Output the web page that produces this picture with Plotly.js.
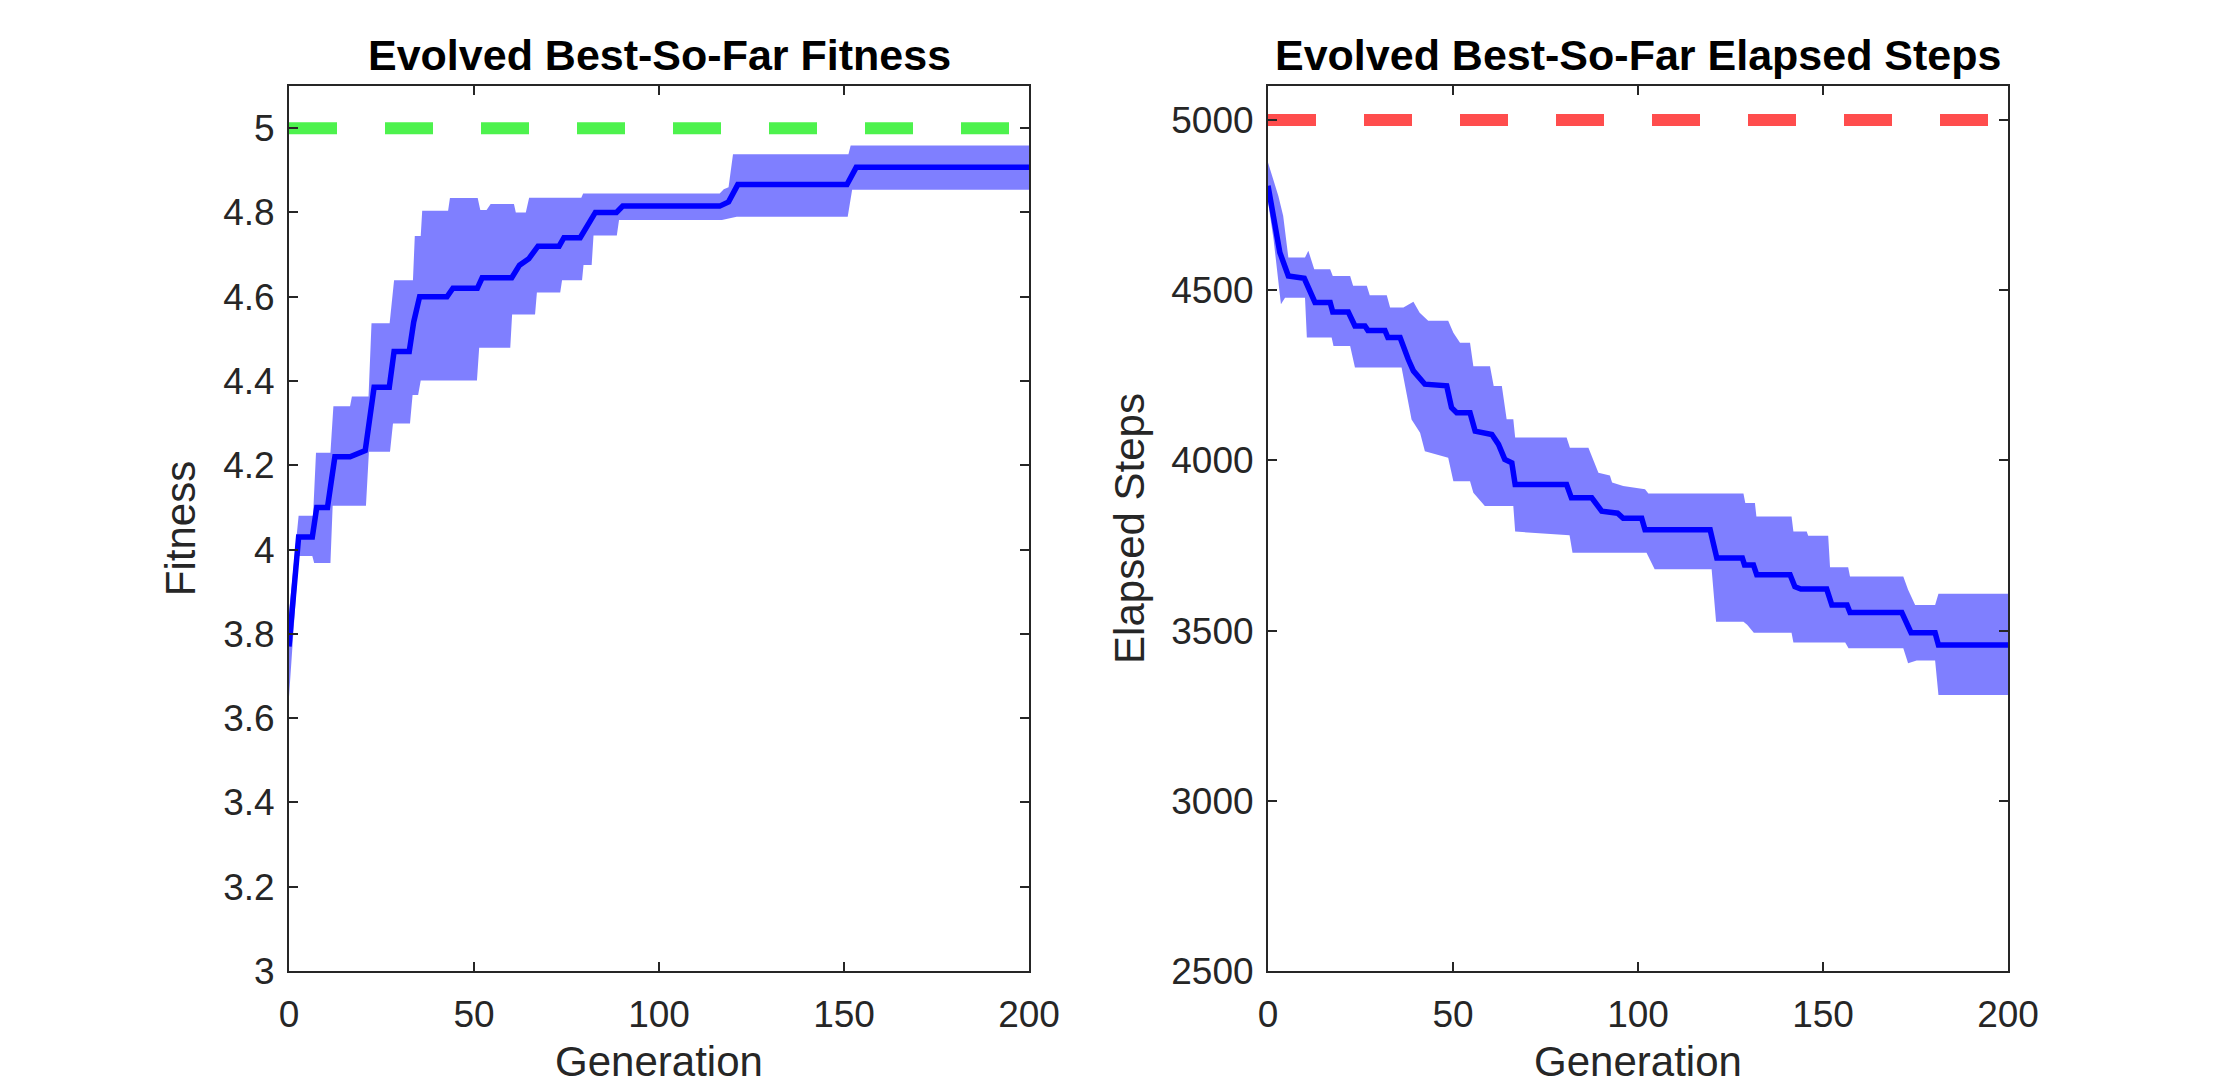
<!DOCTYPE html>
<html>
<head>
<meta charset="utf-8">
<script src="https://cdn.plot.ly/plotly-3.0.1.min.js"></script>
<style>
  html, body { margin: 0; padding: 0; background: #fff; }
  #container { width: 2221px; height: 1092px; }
</style>
</head>
<body>
<div id="container"></div>
<script>
// ---- fitness panel ----
var fitGen  = [0, 2.6, 6.3, 7.5, 10.4, 12.4, 16.5, 20.6, 23, 27.1, 28.4, 32.5, 33.7, 35.3, 42.7, 44.3, 50.9, 52.2, 60.2, 62.3, 64.8, 67.3, 73, 74.3, 78.7, 80, 82.8, 88.5, 90.2, 116.4, 118.8, 121.3, 150.8, 153.3, 200];
var fitMean = [3.77, 4.03, 4.03, 4.10, 4.10, 4.22, 4.22, 4.235, 4.385, 4.385, 4.47, 4.47, 4.54, 4.60, 4.60, 4.62, 4.62, 4.645, 4.645, 4.675, 4.69, 4.72, 4.72, 4.74, 4.74, 4.76, 4.80, 4.80, 4.815, 4.815, 4.825, 4.866, 4.866, 4.907, 4.907];

var fitUpGen = [0, 2.6, 6.5, 7.3, 11.2, 12.0, 16.5, 17.0, 21.5, 22.3, 27.2, 28.4, 33.5, 34.0, 35.6, 36.0, 43.0, 43.5, 51.0, 51.7, 53.4, 54.5, 60.8, 61.3, 64.0, 64.9, 79.0, 79.5, 116.4, 117.5, 118.8, 120.0, 151.2, 151.8, 200];
var fitUp    = [3.85, 4.08, 4.08, 4.23, 4.23, 4.34, 4.34, 4.363, 4.363, 4.537, 4.537, 4.639, 4.639, 4.744, 4.744, 4.804, 4.804, 4.834, 4.834, 4.806, 4.806, 4.82, 4.82, 4.80, 4.80, 4.835, 4.835, 4.845, 4.845, 4.855, 4.86, 4.938, 4.938, 4.959, 4.959];

var fitLoGen = [0, 2.6, 6.3, 6.8, 11.2, 11.8, 20.8, 21.6, 27.3, 28.1, 32.7, 33.4, 34.9, 35.6, 50.8, 51.4, 59.8, 60.3, 66.5, 67.0, 73.3, 73.8, 79.2, 79.6, 81.8, 82.3, 88.6, 89.2, 117, 121, 151, 152.2, 200];
var fitLo    = [3.65, 3.985, 3.985, 3.968, 3.968, 4.104, 4.104, 4.232, 4.232, 4.299, 4.299, 4.367, 4.367, 4.401, 4.401, 4.479, 4.479, 4.558, 4.558, 4.61, 4.61, 4.639, 4.639, 4.675, 4.675, 4.745, 4.745, 4.782, 4.782, 4.79, 4.79, 4.854, 4.854];

var fitGoal = [5, 5];
var fitTickVals = [3, 3.2, 3.4, 3.6, 3.8, 4, 4.2, 4.4, 4.6, 4.8, 5];
var fitTickText = ['3', '3.2', '3.4', '3.6', '3.8', '4', '4.2', '4.4', '4.6', '4.8', '5'];

// ---- elapsed steps panel ----
var stepGen  = [0, 1.9, 3.2, 5.5, 9.8, 12.7, 16.8, 17.5, 21.7, 23.5, 26.2, 27, 31.6, 32.4, 35.7, 37.9, 39.3, 42.4, 48.3, 49.6, 51, 54.6, 56, 60.5, 62.3, 64, 65.9, 66.8, 80.7, 82, 87.5, 90.2, 94.5, 96, 101, 101.9, 119.5, 121.3, 128.2, 128.8, 131.2, 132.1, 141.1, 142.4, 144, 151, 152.4, 156.5, 157.3, 171.3, 172.6, 173.8, 180.3, 181.2, 200];
var stepMean = [4807, 4699, 4611, 4542, 4535, 4464, 4464, 4436, 4436, 4395, 4395, 4382, 4382, 4361, 4361, 4297, 4263, 4224, 4219, 4155, 4140, 4140, 4086, 4076, 4047, 4003, 3993, 3929, 3929, 3890, 3890, 3851, 3845, 3830, 3830, 3796, 3796, 3713, 3713, 3693, 3693, 3664, 3664, 3629, 3622, 3622, 3575, 3575, 3553, 3553, 3517, 3494, 3494, 3458, 3458];

var stepUpGen = [0, 2.8, 4.1, 5.5, 10, 10.9, 12.5, 16.8, 17.5, 22.2, 23, 26.7, 27.5, 32.1, 33, 36.6, 39.3, 41, 43.3, 48.7, 50.1, 51.9, 54.6, 55.5, 60, 61, 63.2, 64.5, 66.3, 66.8, 80.7, 81.6, 86.6, 89.3, 92.4, 93, 96, 101.9, 102.8, 128.5, 129, 131.6, 132, 141.5, 142, 145.6, 146, 151.4, 151.9, 156.8, 157.3, 171.7, 173, 174.9, 180.3, 181.2, 200];
var stepUp    = [4875, 4777, 4719, 4596, 4596, 4616, 4562, 4562, 4542, 4542, 4513, 4513, 4485, 4485, 4449, 4449, 4466, 4434, 4410, 4410, 4375, 4346, 4346, 4277, 4277, 4219, 4219, 4121, 4121, 4067, 4067, 4037, 4037, 3964, 3956, 3935, 3925, 3915, 3903, 3903, 3875, 3875, 3835, 3835, 3791, 3791, 3779, 3779, 3686, 3686, 3659, 3659, 3620, 3575, 3575, 3608, 3608];

var stepLoGen = [0, 1.5, 3.5, 4.6, 10, 10.5, 17.2, 17.7, 22.2, 23.5, 36.1, 38.8, 41.1, 42.4, 48.7, 50.1, 54.6, 55.5, 58.6, 66.3, 66.8, 81.5, 82.3, 102.3, 104.5, 119.9, 121.1, 128.5, 129.5, 131.3, 141.5, 142, 156, 156.9, 171.7, 173, 175.3, 180.3, 181.2, 200];
var stepLo    = [4760, 4650, 4459, 4478, 4478, 4361, 4361, 4336, 4336, 4273, 4273, 4120, 4081, 4027, 4008, 3939, 3939, 3905, 3866, 3866, 3791, 3780, 3729, 3729, 3680, 3680, 3526, 3526, 3517, 3494, 3494, 3465, 3465, 3448, 3448, 3404, 3412, 3412, 3311, 3311];

var stepGoal = [5000, 5000];
var stepTickVals = [2500, 3000, 3500, 4000, 4500, 5000];
var stepTickText = ['2500', '3000', '3500', '4000', '4500', '5000'];

var goalGen = [0, 200];
var genTickVals = [0, 50, 100, 150, 200];

var axisColor = '#262626';
var bandColor = 'rgba(0,0,255,0.5)';
var lineColor = '#0000ff';

function band(xLo, yLo, xUp, yUp, xa, ya) {
    var lo = {
        x: xLo, y: yLo, xaxis: xa, yaxis: ya,
        mode: 'lines', line: {width: 0, color: bandColor},
        hoverinfo: 'skip', type: 'scatter'
    };
    var up = {
        x: xUp, y: yUp, xaxis: xa, yaxis: ya,
        mode: 'lines', line: {width: 0, color: bandColor},
        fill: 'tonexty', fillcolor: bandColor,
        hoverinfo: 'skip', type: 'scatter'
    };
    return [lo, up];
}

var data = [];
data = data.concat(band(fitLoGen, fitLo, fitUpGen, fitUp, 'x', 'y'));
data.push({
    x: fitGen, y: fitMean, xaxis: 'x', yaxis: 'y',
    mode: 'lines', line: {color: lineColor, width: 5.5}, type: 'scatter'
});
data.push({
    x: goalGen, y: fitGoal, xaxis: 'x', yaxis: 'y',
    mode: 'lines', line: {color: 'rgb(77,242,77)', width: 12, dash: '48px,48px'}, type: 'scatter'
});

data = data.concat(band(stepLoGen, stepLo, stepUpGen, stepUp, 'x2', 'y2'));
data.push({
    x: stepGen, y: stepMean, xaxis: 'x2', yaxis: 'y2',
    mode: 'lines', line: {color: lineColor, width: 5.5}, type: 'scatter'
});
data.push({
    x: goalGen, y: stepGoal, xaxis: 'x2', yaxis: 'y2',
    mode: 'lines', line: {color: 'rgb(255,77,77)', width: 12, dash: '48px,48px'}, type: 'scatter'
});

var W = 2221, H = 1092;
var yDom = [1 - 971 / H, 1 - 86 / H];
var tickFont = {family: 'Liberation Sans, Arial, sans-serif', size: 37, color: axisColor};
var labelFont = {family: 'Liberation Sans, Arial, sans-serif', size: 42, color: axisColor};

function xAxis(dom, anchor) {
    return {
        domain: dom, anchor: anchor, range: [0, 200],
        tickvals: genTickVals, ticks: 'inside', ticklen: 9, tickwidth: 2, tickcolor: axisColor,
        showline: true, linecolor: axisColor, linewidth: 2, mirror: 'ticks',
        showgrid: false, zeroline: false, tickfont: tickFont, ticklabelstandoff: 10,
        title: {text: 'Generation', font: labelFont, standoff: 12}
    };
}
function yAxis(range, vals, text, label, anchor) {
    return {
        domain: yDom, anchor: anchor, range: range,
        tickvals: vals, ticktext: text, ticks: 'inside', ticklen: 9, tickwidth: 2, tickcolor: axisColor,
        showline: true, linecolor: axisColor, linewidth: 2, mirror: 'ticks',
        showgrid: false, zeroline: false, tickfont: tickFont, ticklabelstandoff: 5,
        title: {text: label, font: labelFont, standoff: 14}
    };
}

var titleFont = {family: 'Liberation Sans, Arial, sans-serif', size: 43, color: '#000000', weight: 'bold'};

var layout = {
    width: W, height: H,
    margin: {l: 0, r: 0, t: 0, b: 0},
    paper_bgcolor: '#ffffff', plot_bgcolor: '#ffffff',
    showlegend: false, hovermode: false,
    xaxis: xAxis([289 / W, 1029 / W], 'y'),
    yaxis: yAxis([3, 5.1], fitTickVals, fitTickText, 'Fitness', 'x'),
    xaxis2: xAxis([1268 / W, 2008 / W], 'y2'),
    yaxis2: yAxis([2500, 5100], stepTickVals, stepTickText, 'Elapsed Steps', 'x2'),
    annotations: [
        {text: 'Evolved Best-So-Far Fitness', xref: 'x domain', yref: 'paper', x: 0.5, y: 1 - 55 / H,
         xanchor: 'center', yanchor: 'middle', showarrow: false, font: titleFont},
        {text: 'Evolved Best-So-Far Elapsed Steps', xref: 'x2 domain', yref: 'paper', x: 0.5, y: 1 - 55 / H,
         xanchor: 'center', yanchor: 'middle', showarrow: false, font: titleFont}
    ]
};

Plotly.newPlot('container', data, layout, {staticPlot: true});
</script>
</body>
</html>
